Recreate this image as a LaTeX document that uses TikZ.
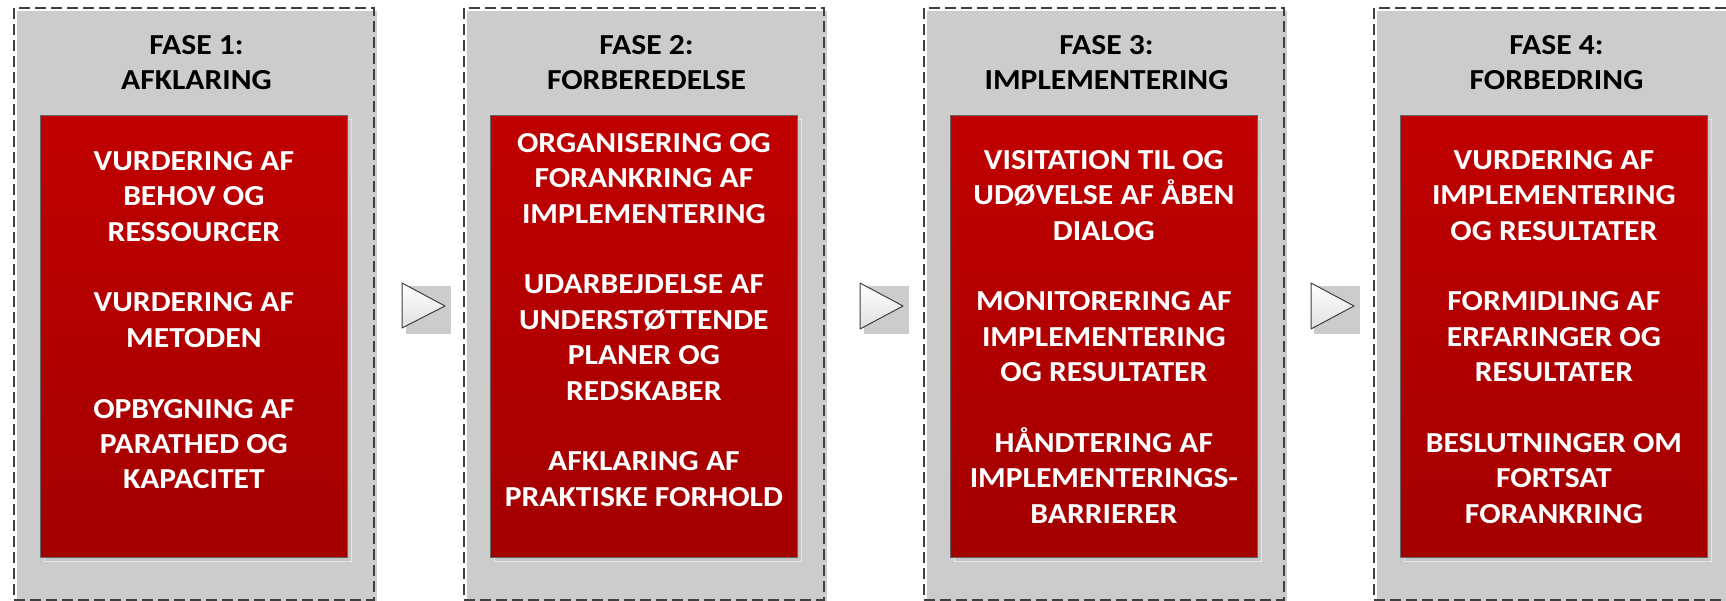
\documentclass[tikz,border=0pt]{standalone}
\usepackage{fontspec}
\setmainfont{Carlito}[FakeStretch=1.09]
\usetikzlibrary{positioning}

\definecolor{phasegray}{HTML}{CCCCCC}
\definecolor{framegray}{HTML}{404040}
\definecolor{redtop}{HTML}{C00000}
\definecolor{redbottom}{HTML}{A30000}
\definecolor{shadowgray}{HTML}{C6C6C6}

\tikzset{
  phasebg/.style={fill=phasegray, minimum width=360pt, minimum height=600pt,
    anchor=north west, inner sep=0pt},
  phaseframe/.style={draw=framegray, line width=1.6pt, dash pattern=on 11pt off 5pt,
    minimum width=360pt, minimum height=592pt, anchor=north west, inner sep=0pt},
  stepshadow/.style={fill=shadowgray, draw=black!10, line width=0.6pt,
    minimum width=307pt, minimum height=442pt, anchor=north west, inner sep=0pt},
  stepbox/.style={top color=redtop, bottom color=redbottom, draw=black!60, line width=0.8pt,
    minimum width=307pt, minimum height=442pt, anchor=north west, inner sep=0pt},
  phasetitle/.style={font=\fontsize{29}{35.6}\selectfont\bfseries, align=center,
    anchor=north, inner sep=0pt},
  steptext/.style={font=\fontsize{29}{35.4}\selectfont\bfseries, text=white, align=center,
    inner sep=0pt},
  chevron/.style={draw=framegray, line width=1pt, line join=round,
    top color=white, bottom color=black!12},
}

\begin{document}
\begin{tikzpicture}[x=1pt, y=-1pt]
  \useasboundingbox (0,0) rectangle (1726,601);

  % fase 1
  \node[phasebg] (bg1) at (17,11) {};
  \node[phaseframe] (fr1) at (13,7) {};
  \node[phasetitle] (title1) at (196.5,35) {FASE 1:\\AFKLARING};
  \node[stepshadow] (sh1) at (44,119) {};
  \node[stepbox] (box1) at (40,115) {};
  \node[steptext, below=36pt of box1.north] (text1)
    {VURDERING AF\\BEHOV OG\\RESSOURCER\\[35.4pt]VURDERING AF\\METODEN\\[35.4pt]OPBYGNING AF\\PARATHED OG\\KAPACITET};

  % fase 2
  \node[phasebg] (bg2) at (467,11) {};
  \node[phaseframe] (fr2) at (463,7) {};
  \node[phasetitle] (title2) at (646.5,35) {FASE 2:\\FORBEREDELSE};
  \node[stepshadow] (sh2) at (494,119) {};
  \node[stepbox] (box2) at (490,115) {};
  \node[steptext, below=18pt of box2.north] (text2)
    {ORGANISERING OG\\FORANKRING AF\\IMPLEMENTERING\\[35.4pt]UDARBEJDELSE AF\\UNDERSTØTTENDE\\PLANER OG\\REDSKABER\\[35.4pt]AFKLARING AF\\PRAKTISKE FORHOLD};

  % fase 3
  \node[phasebg] (bg3) at (927,11) {};
  \node[phaseframe] (fr3) at (923,7) {};
  \node[phasetitle] (title3) at (1106.5,35) {FASE 3:\\IMPLEMENTERING};
  \node[stepshadow] (sh3) at (954,119) {};
  \node[stepbox] (box3) at (950,115) {};
  \node[steptext, below=35pt of box3.north] (text3)
    {VISITATION TIL OG\\UDØVELSE AF ÅBEN\\DIALOG\\[35.4pt]MONITORERING AF\\IMPLEMENTERING\\OG RESULTATER\\[35.4pt]HÅNDTERING AF\\IMPLEMENTERINGS-\\BARRIERER};

  % fase 4
  \node[phasebg] (bg4) at (1377,11) {};
  \node[phaseframe] (fr4) at (1373,7) {};
  \node[phasetitle] (title4) at (1556.5,35) {FASE 4:\\FORBEDRING};
  \node[stepshadow] (sh4) at (1404,119) {};
  \node[stepbox] (box4) at (1400,115) {};
  \node[steptext, below=35pt of box4.north] (text4)
    {VURDERING AF\\IMPLEMENTERING\\OG RESULTATER\\[35.4pt]FORMIDLING AF\\ERFARINGER OG\\RESULTATER\\[35.4pt]BESLUTNINGER OM\\FORTSAT\\FORANKRING};

  % pile mellem faserne
  \fill[phasegray] (406,286) rectangle (451,334);
  \draw[chevron] (402,283) -- (445,306) -- (402,328) -- cycle;
  \fill[phasegray] (864,286) rectangle (909,334);
  \draw[chevron] (860,283) -- (903,306) -- (860,329) -- cycle;
  \fill[phasegray] (1314,286) rectangle (1360,334);
  \draw[chevron] (1311,283) -- (1354,306) -- (1311,329) -- cycle;
\end{tikzpicture}
\end{document}
